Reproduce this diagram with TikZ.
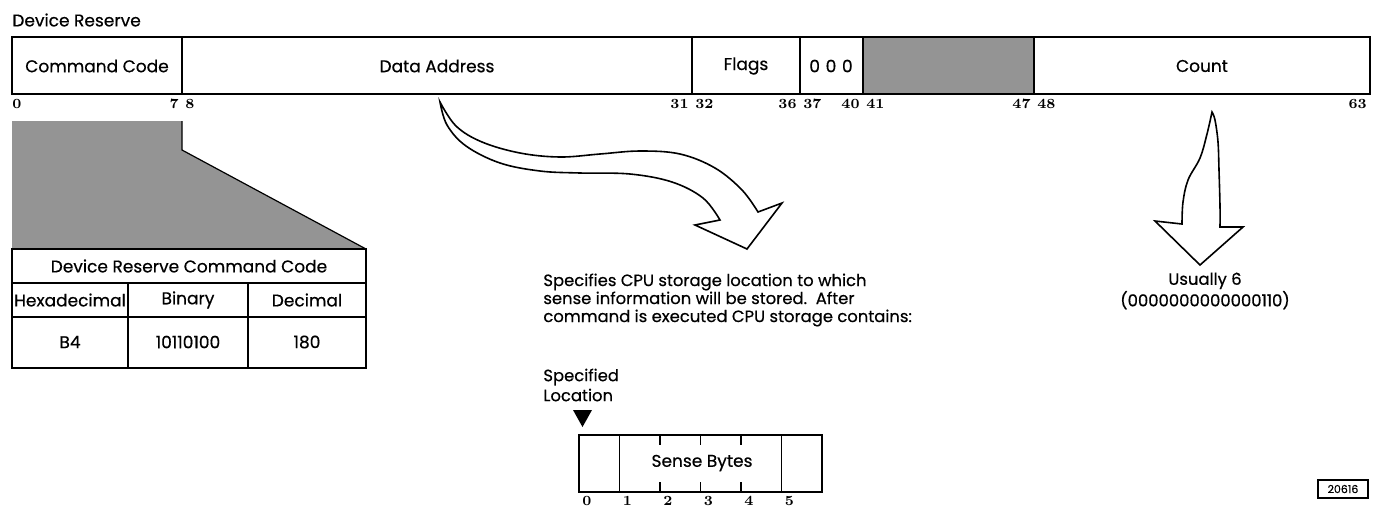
\documentclass[tikz,border=0pt]{standalone}
\usepackage{fontspec}
\newfontfamily\fut[FakeBold=0.5]{Poppins}
\usetikzlibrary{positioning,calc}
\tikzset{
  fld/.style={font=\fut\fontsize{8.5}{10}\selectfont,inner sep=0pt},
  bit/.style={font=\fontsize{7}{8}\selectfont\bfseries,inner sep=0pt},
  note/.style={font=\fut\fontsize{8.2}{9}\selectfont,inner sep=0pt,align=left},
  tone/.style={fill=black!42},
  frame/.style={draw,semithick},
  hollow/.style={draw,thick,fill=white,line join=miter}
}

\begin{document}
\begin{tikzpicture}[x=0.5pt,y=-0.5pt]
\useasboundingbox (0,0) rectangle (1376,510);
% the record
\node[fld,anchor=west] (title) at (12,20) {Device Reserve};
\fill[tone] (863,37) rectangle (1034,94);
\draw[frame] (12,37) rectangle (1370,94);
\foreach \x in {182,692,800,863,1034}{\draw[frame] (\x,37)--(\x,94);}
\node[fld] (cmd) at (97,66) {Command Code};
\node[fld] (addr) at (437,66) {Data Address};
\node[fld] (flags) at (746,66) {Flags};
\node[fld] (zeros) at (831,66) {0\,\,0\,\,0};
\node[fld] (count) at (1202,66) {Count};
\foreach \x/\n in {12/0,185/8,695/32,803/37,866/41,1037/48}{\node[bit,anchor=north west] (b\n) at (\x,99) {\n};}
\foreach \x/\n in {179/7,689/31,797/36,860/40,1031/47,1367/63}{\node[bit,anchor=north east] (b\n) at (\x,99) {\n};}
% command code table
\fill[tone] (12,121) -- (182,121) -- (182,150) -- (366,249) -- (12,249) -- cycle;
\draw[semithick] (182,121)--(182,150)--(366,249);
\draw[frame,thick] (12,249) rectangle (366,368);
\draw[frame] (12,283)--(366,283);
\draw[frame,thick] (12,317)--(366,317);
\foreach \x in {128,248}{\draw[frame] (\x,283)--(\x,368);}
\node[fld] (head) at (189,266) {Device Reserve Command Code};
\node[fld] (hex) at (70,300) {Hexadecimal};
\node[fld] (bin) at (188,300) {Binary};
\node[fld] (dec) at (307,300) {Decimal};
\node[fld] (hexv) at (70,342) {B4};
\node[fld] (binv) at (188,342) {10110100};
\node[fld] (decv) at (307,342) {180};
% arrows
\draw[hollow] plot[smooth,tension=0.6] coordinates {(440,102) (456,126) (482,142) (520,153) (560,157) (600,154) (640,151) (680,154) (715,168) (742,190) (758,212)}
  -- (782,203) -- (747,249) -- (695,225) -- (720,220)
  -- plot[smooth,tension=0.6] coordinates {(720,220) (703,198) (672,182) (630,174) (580,173) (540,171) (500,163) (466,146) (447,125) (440,102)} -- cycle;
\draw[hollow] plot[smooth,tension=0.6] coordinates {(1212,112) (1207,134) (1200,158) (1188,180) (1183,202) (1182,224)}
  -- (1155,221) -- (1200,265) -- (1243,227) -- (1220,227)
  -- plot[smooth,tension=0.6] coordinates {(1220,227) (1220,206) (1219,170) (1218,142) (1215,120) (1212,112)} -- cycle;
\node[note,align=center] (usual) at (1205,291) {Usually 6\\(0000000000000110)};
\node[note,anchor=west] (spec) at (543,300) {Specifies CPU storage location to which\\sense information will be stored.\ \ After\\command is executed CPU storage contains:};
% sense bytes
\node[note,anchor=west,font=\fut\fontsize{8.2}{10}\selectfont] (loc) at (543,385) {Specified\\Location};
\fill (573,410) -- (592,410) -- (582.5,427) -- cycle;
\draw[frame] (579,435) rectangle (822,492);
\foreach \i in {1,5}{\draw[frame] ({579+40.5*\i},435)--({579+40.5*\i},492);}
\foreach \i in {2,3,4}{\draw[frame] ({579+40.5*\i},435)--({579+40.5*\i},445) ({579+40.5*\i},482)--({579+40.5*\i},492);}
\foreach \i in {0,...,5}{\node[bit,anchor=north west] (s\i) at ({582+40.5*\i},496) {\i};}
\node[fld] (sense) at (702,463) {Sense Bytes};
\node[draw,semithick,font=\fut\fontsize{5.5}{6}\selectfont,minimum width=25pt,minimum height=9pt,inner sep=1pt] (fig) at (1343,489) {20616};
\end{tikzpicture}
\end{document}
